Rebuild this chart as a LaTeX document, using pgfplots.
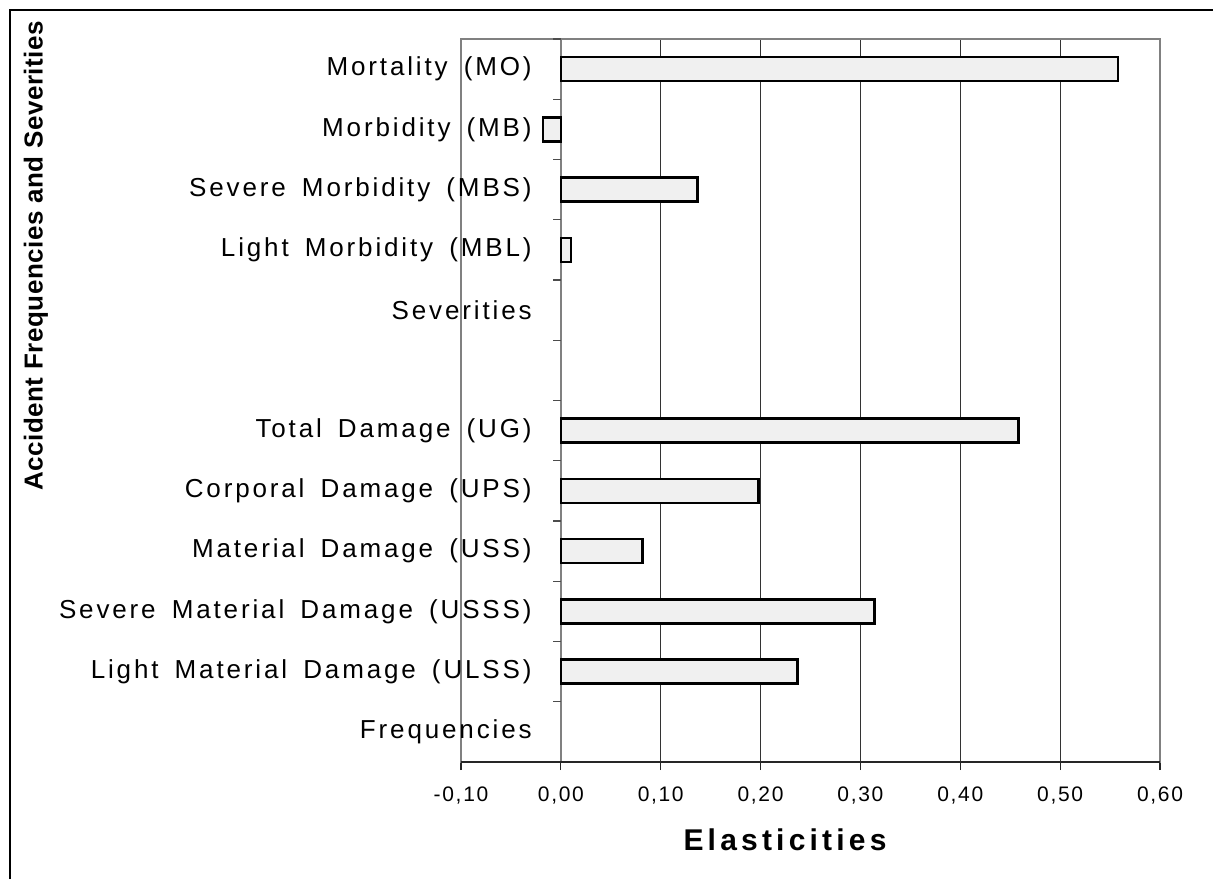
\documentclass[border=0pt]{standalone}
\usepackage{fontspec}
\setmainfont{Liberation Sans}
\newfontfamily\catfont[LetterSpace=11,WordSpace=1.6]{Liberation Sans}
\newfontfamily\tickfont[LetterSpace=8]{Liberation Sans}
\newfontfamily\labfont[LetterSpace=14]{Liberation Sans}
\newfontfamily\ylabfont[LetterSpace=2]{Liberation Sans}
\usepackage{pgfplots}
\pgfplotsset{compat=1.18}
\begin{document}
\begin{tikzpicture}[x=1pt,y=1pt]
\useasboundingbox (0,0) rectangle (606.5,439.5);
\draw[line width=0.6pt] (5,0) -- (5,434.5) -- (606.5,434.5);
\begin{axis}[
    at={(230.5pt,58.5pt)}, anchor=south west,
    scale only axis, width=349.5pt, height=361.5pt,
    xbar, bar width=12pt,
    xmin=-0.1, xmax=0.6, ymin=-0.5, ymax=11.5,
    xtick={-0.1,0,0.1,0.2,0.3,0.4,0.5,0.6},
    ytick={0,...,11},
    yticklabels={Frequencies,Light Material Damage (ULSS),Severe Material Damage (USSS),Material Damage (USS),Corporal Damage (UPS),Total Damage (UG),{},Severities,Light Morbidity (MBL),Severe Morbidity (MBS),Morbidity (MB),Mortality (MO)},
    yticklabel style={font=\catfont\fontsize{13}{15}\selectfont, anchor=east, inner sep=0pt, xshift=39.5pt},
    xticklabel style={font=\tickfont\fontsize{10.5}{12}\selectfont, yshift=-5pt},
    /pgf/number format/.cd, fixed, fixed zerofill, precision=2, use comma, assume math mode=true,
    /pgfplots/.cd,
    tick align=outside,
    xtick pos=bottom,
    xtick style={black!85, line width=0.6pt},
    major tick length=4pt,
    ytick style={draw=none},
    xmajorgrids,
    grid style={black!80, line width=0.55pt},
    axis line style={gray, line width=1pt},
    xlabel={Elasticities},
    xlabel style={font=\labfont\bfseries\fontsize{15}{17}\selectfont, at={(axis description cs:0.4635,-0.108)}, anchor=center},
    ylabel={Accident Frequencies and Severities},
    ylabel style={font=\ylabfont\bfseries\fontsize{13}{15}\selectfont, at={(axis description cs:-0.608,0.70)}, anchor=center},
]
\draw[gray, line width=0.8pt] (axis cs:0,-0.5) -- (axis cs:0,11.5);
\pgfplotsinvokeforeach{-0.5,0.5,...,11.5}{
  \draw[gray!60!black, line width=0.7pt] (axis cs:0,#1) -- ([xshift=-4pt]axis cs:0,#1);
}
\draw[black!85, line width=1pt] (rel axis cs:0,0) -- (rel axis cs:1,0);
% Frequencies, blank row and Severities are header rows (value 0), left out
\addplot[draw=black, line width=1.3pt, fill=gray!12] coordinates {
  (0.237,1) (0.314,2) (0.082,3) (0.198,4) (0.458,5)
  (0.010,8) (0.137,9) (-0.018,10) (0.558,11)
};
\end{axis}
\end{tikzpicture}
\end{document}
